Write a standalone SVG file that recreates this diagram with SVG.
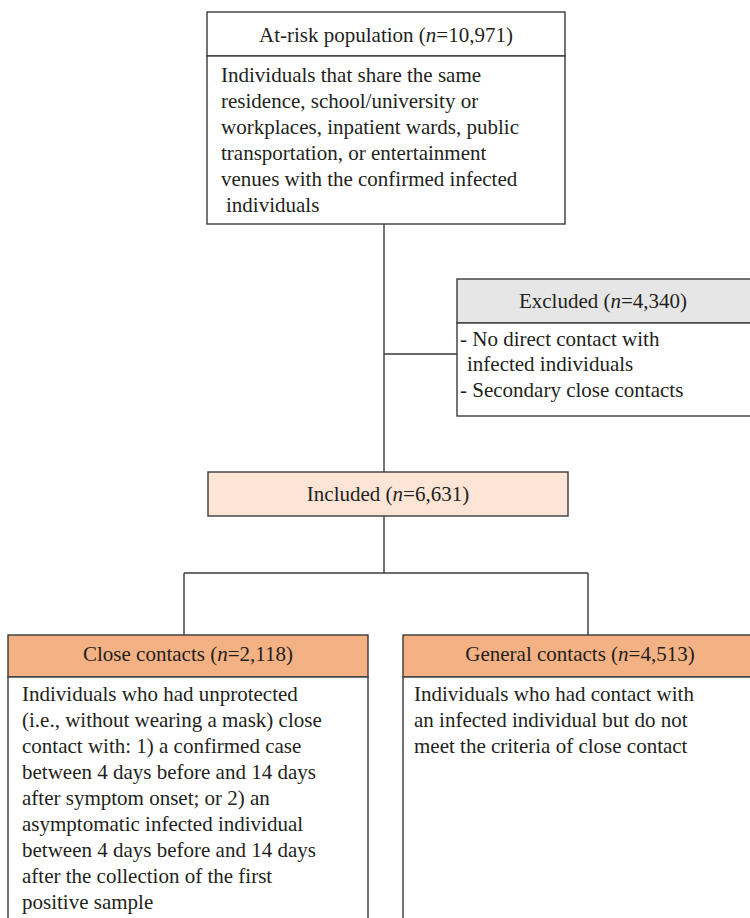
<svg xmlns="http://www.w3.org/2000/svg" width="750" height="918" viewBox="0 0 750 918">
<style>
.box{stroke:#3a3a3a;stroke-width:1.4}
.ln{stroke:#3a3a3a;stroke-width:1.4;fill:none}
text{font-family:"Liberation Serif","Times New Roman",serif;font-size:21px;fill:#231f20}
.c{text-anchor:middle}
</style>
<rect width="750" height="918" fill="#fff"/>
<g id="connectors">
<path class="ln" d="M384 224V472M384 354H457M384 516V573M184 573H588M184 573V635M588 573V635"/>
</g>
<g id="at-risk">
<rect class="box" x="207" y="12" width="358" height="44" fill="#fff"/>
<rect class="box" x="207" y="56" width="358" height="168" fill="#fff"/>
<text class="c" x="386" y="42">At-risk population (<tspan font-style="italic">n</tspan>=10,971)</text>
<text x="221" y="82">Individuals that share the same</text>
<text x="221" y="108">residence, school/university or</text>
<text x="221" y="134">workplaces, inpatient wards, public</text>
<text x="221" y="160">transportation, or entertainment</text>
<text x="221" y="186">venues with the confirmed infected</text>
<text x="226" y="212">individuals</text>
</g>
<g id="excluded">
<rect class="box" x="457" y="279" width="310" height="44" fill="#e6e6e6"/>
<rect class="box" x="457" y="323" width="310" height="93" fill="#fff"/>
<text class="c" x="603" y="308">Excluded (<tspan font-style="italic">n</tspan>=4,340)</text>
<text x="460" y="346">- No direct contact with</text>
<text x="467" y="371">infected individuals</text>
<text x="460" y="397">- Secondary close contacts</text>
</g>
<g id="included">
<rect class="box" x="208" y="472" width="360" height="44" fill="#fde5d6"/>
<text class="c" x="388" y="501">Included (<tspan font-style="italic">n</tspan>=6,631)</text>
</g>
<g id="close">
<rect class="box" x="8" y="635" width="360" height="42" fill="#f4b183"/>
<rect class="box" x="8" y="677" width="360" height="260" fill="#fff"/>
<text class="c" x="188" y="661">Close contacts (<tspan font-style="italic">n</tspan>=2,118)</text>
<text x="22" y="701">Individuals who had unprotected</text>
<text x="22" y="727">(i.e., without wearing a mask) close</text>
<text x="22" y="753">contact with: 1) a confirmed case</text>
<text x="22" y="779">between 4 days before and 14 days</text>
<text x="22" y="805">after symptom onset; or 2) an</text>
<text x="22" y="831">asymptomatic infected individual</text>
<text x="22" y="857">between 4 days before and 14 days</text>
<text x="22" y="883">after the collection of the first</text>
<text x="22" y="909">positive sample</text>
</g>
<g id="general">
<rect class="box" x="403" y="635" width="354" height="42" fill="#f4b183"/>
<rect class="box" x="403" y="677" width="354" height="260" fill="#fff"/>
<text class="c" x="580" y="661">General contacts (<tspan font-style="italic">n</tspan>=4,513)</text>
<text x="414" y="701">Individuals who had contact with</text>
<text x="414" y="727">an infected individual but do not</text>
<text x="414" y="753">meet the criteria of close contact</text>
</g>
</svg>
